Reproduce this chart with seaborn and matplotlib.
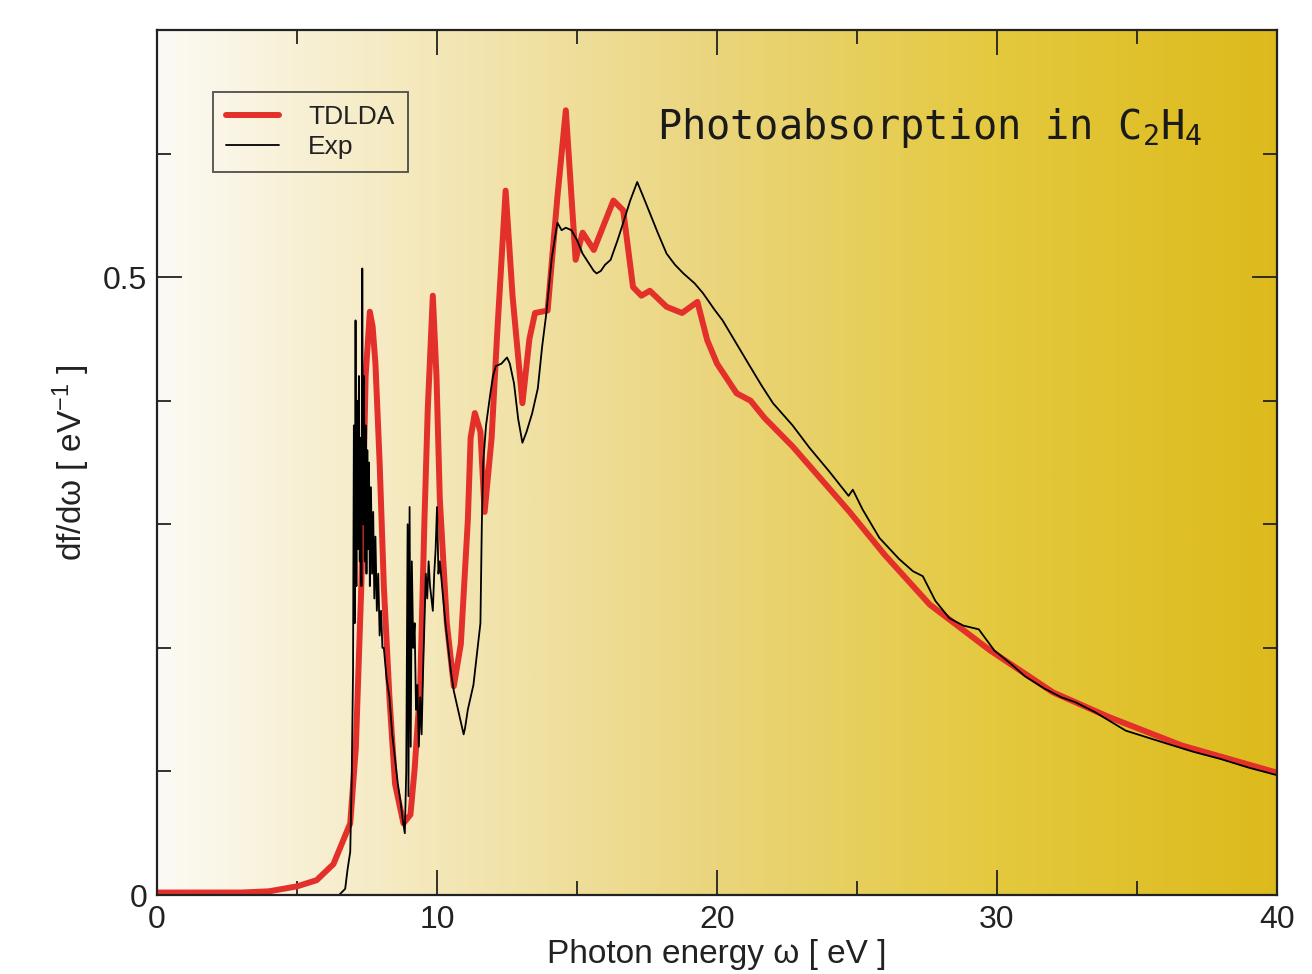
import matplotlib
matplotlib.use("Agg")
import matplotlib.pyplot as plt
import numpy as np
import pandas as pd
import seaborn as sns
from matplotlib.colors import LinearSegmentedColormap
from matplotlib.ticker import FixedLocator, MultipleLocator

###############
# DATA        #
###############
# TDLDA (theory)
tdlda_energy = [
    0.0, 3.0, 4.0, 5.0, 5.7, 6.3, 6.9, 7.1, 7.3, 7.45,
    7.6, 7.7, 7.8, 7.95, 8.1, 8.3, 8.5, 8.8, 9.05, 9.2,
    9.4, 9.55, 9.67, 9.85, 9.98, 10.1, 10.35, 10.6, 10.85, 11.1,
    11.2, 11.35, 11.55, 11.7, 11.95, 12.15, 12.45, 12.7, 13.05, 13.3,
    13.5, 13.95, 14.3, 14.6, 14.95, 15.2, 15.6, 16.3, 16.65, 17.0,
    17.3, 17.6, 18.2, 18.75, 19.3, 19.65, 20.0, 20.7, 21.2, 21.7,
    22.7, 24.7, 26.0, 27.6, 29.75, 32.0, 34.0, 36.6, 40.0,
]
tdlda_dfdw = [
    0.002, 0.002, 0.003, 0.007, 0.012, 0.025, 0.058, 0.119, 0.253, 0.42,
    0.472, 0.46, 0.43, 0.35, 0.25, 0.16, 0.09, 0.058, 0.065, 0.102,
    0.169, 0.303, 0.394, 0.485, 0.42, 0.32, 0.22, 0.169, 0.203, 0.303,
    0.37, 0.39, 0.375, 0.31, 0.37, 0.455, 0.570, 0.484, 0.398, 0.45,
    0.471, 0.473, 0.565, 0.635, 0.514, 0.536, 0.522, 0.562, 0.554, 0.492,
    0.485, 0.489, 0.476, 0.471, 0.48, 0.449, 0.43, 0.406, 0.40, 0.386,
    0.363, 0.311, 0.275, 0.235, 0.198, 0.164, 0.144, 0.121, 0.099,
]

# Experiment
exp_energy = [
    0.0, 6.5, 6.72, 6.8, 6.9, 6.95, 7.0, 7.03, 7.06, 7.09,
    7.12, 7.15, 7.18, 7.21, 7.24, 7.27, 7.3, 7.33, 7.36, 7.39,
    7.42, 7.45, 7.48, 7.51, 7.54, 7.57, 7.6, 7.64, 7.68, 7.72,
    7.76, 7.8, 7.85, 7.9, 7.95, 8.0, 8.05, 8.1, 8.2, 8.3,
    8.4, 8.5, 8.6, 8.7, 8.78, 8.85, 8.9, 8.95, 8.98, 9.02,
    9.06, 9.1, 9.15, 9.2, 9.25, 9.3, 9.35, 9.4, 9.45, 9.5,
    9.55, 9.6, 9.65, 9.7, 9.75, 9.8, 9.85, 9.9, 9.95, 10.0,
    10.05, 10.1, 10.2, 10.3, 10.4, 10.5, 10.6, 10.7, 10.8, 10.9,
    10.95, 11.0, 11.1, 11.2, 11.3, 11.4, 11.5, 11.55, 11.6, 11.65,
    11.75, 11.9, 12.0, 12.1, 12.3, 12.5, 12.6, 12.75, 12.9, 13.05,
    13.2, 13.4, 13.6, 13.75, 13.9, 14.1, 14.3, 14.45, 14.6, 14.8,
    15.0, 15.2, 15.4, 15.6, 15.7, 15.85, 16.0, 16.2, 16.45, 16.65,
    16.9, 17.15, 17.35, 17.6, 17.9, 18.2, 18.5, 18.8, 19.2, 19.5,
    19.9, 20.2, 20.7, 21.2, 21.6, 22.0, 22.7, 23.3, 24.0, 24.7,
    24.85, 25.2, 25.8, 26.5, 27.0, 27.35, 27.8, 28.3, 28.8, 29.35,
    29.9, 30.5, 31.0, 31.7, 32.3, 32.8, 33.5, 34.6, 35.3, 36.0,
    37.0, 38.0, 39.0, 40.0,
]
exp_dfdw = [
    0.0, 0.0, 0.005, 0.02, 0.035, 0.09, 0.18, 0.38, 0.22, 0.465,
    0.25, 0.40, 0.28, 0.42, 0.27, 0.37, 0.25, 0.507, 0.30, 0.42,
    0.27, 0.38, 0.26, 0.36, 0.28, 0.35, 0.25, 0.33, 0.26, 0.31,
    0.24, 0.29, 0.23, 0.26, 0.21, 0.23, 0.20, 0.20, 0.175, 0.16,
    0.13, 0.11, 0.09, 0.075, 0.06, 0.05, 0.10, 0.30, 0.08, 0.314,
    0.12, 0.27, 0.20, 0.22, 0.15, 0.17, 0.12, 0.16, 0.13, 0.18,
    0.22, 0.26, 0.24, 0.27, 0.25, 0.24, 0.23, 0.26, 0.28, 0.314,
    0.26, 0.27, 0.245, 0.22, 0.20, 0.18, 0.165, 0.155, 0.145, 0.135,
    0.13, 0.135, 0.15, 0.16, 0.17, 0.19, 0.21, 0.22, 0.30, 0.35,
    0.38, 0.405, 0.42, 0.428, 0.43, 0.435, 0.43, 0.414, 0.385, 0.366,
    0.375, 0.39, 0.41, 0.443, 0.47, 0.516, 0.544, 0.538, 0.54, 0.538,
    0.53, 0.519, 0.512, 0.505, 0.503, 0.505, 0.51, 0.514, 0.53, 0.544,
    0.562, 0.577, 0.566, 0.552, 0.535, 0.519, 0.51, 0.503, 0.495, 0.487,
    0.474, 0.465, 0.446, 0.427, 0.412, 0.398, 0.38, 0.362, 0.343, 0.323,
    0.328, 0.312, 0.289, 0.272, 0.262, 0.258, 0.238, 0.224, 0.218, 0.215,
    0.198, 0.187, 0.177, 0.167, 0.16, 0.156, 0.148, 0.133, 0.128, 0.123,
    0.116, 0.11, 0.103, 0.097,
]

x_ticks = [0, 10, 20, 30, 40]
y_ticks = [0, 0.5]
y_tick_labels = ["0", "0.5"]

###############
# PLOT CONFIG #
###############
RED = "#E3302B"
BG_COLORS = ["#FCFAF4", "#F4E7B8", "#EAD57C", "#E4C93E", "#DDBA1C"]
LABEL_FONT = "Liberation Sans"
TEXT_COLOR = "#222222"

sns.set_style("ticks")
plt.rcParams["font.family"] = [LABEL_FONT, "DejaVu Sans"]
plt.rcParams["mathtext.default"] = "regular"

fig = plt.figure(figsize=(13.12, 9.74), dpi=100)
ax = fig.add_axes([0.1197, 0.0811, 0.8536, 0.8881])

# background gradient (white -> gold, left to right)
cmap = LinearSegmentedColormap.from_list("gold", BG_COLORS)
grad = np.linspace(0, 1, 512).reshape(1, -1)
ax.imshow(grad, extent=[0, 1, 0, 1], transform=ax.transAxes,
          aspect="auto", cmap=cmap, zorder=0)

df_th = pd.DataFrame({"energy": tdlda_energy, "dfdw": tdlda_dfdw})
df_ex = pd.DataFrame({"energy": exp_energy, "dfdw": exp_dfdw})

sns.lineplot(data=df_th, x="energy", y="dfdw", ax=ax, color=RED, lw=4.3,
             label="TDLDA", estimator=None, sort=False, zorder=3)
sns.lineplot(data=df_ex, x="energy", y="dfdw", ax=ax, color="black", lw=1.3,
             label="Exp", estimator=None, sort=False, zorder=4)

ax.set_xlim(0, 40)
ax.set_ylim(0, 0.70)
ax.xaxis.set_major_locator(FixedLocator(x_ticks))
ax.xaxis.set_minor_locator(MultipleLocator(5))
ax.yaxis.set_major_locator(FixedLocator(y_ticks))
ax.set_yticklabels(y_tick_labels)
ax.yaxis.set_minor_locator(MultipleLocator(0.1))
ax.tick_params(which="both", direction="in", top=True, right=True,
               width=1.3, color=TEXT_COLOR, labelsize=23, labelcolor=TEXT_COLOR)
ax.tick_params(which="major", length=18, pad=7)
ax.tick_params(which="minor", length=10)
for sp in ax.spines.values():
    sp.set_linewidth(1.6)
    sp.set_color(TEXT_COLOR)
    sp.set_zorder(5)

ax.set_xlabel("Photon energy ω [ eV ]", fontsize=24, color=TEXT_COLOR, labelpad=3)
ax.set_ylabel("df/dω [ eV$^{-1}$ ]", fontsize=24, color=TEXT_COLOR, labelpad=8)

leg = ax.legend(loc="upper left", bbox_to_anchor=(0.05, 0.928),
                borderaxespad=0, fontsize=19, frameon=True, fancybox=False,
                handlelength=2.0, labelspacing=0.2, borderpad=0.5,
                handletextpad=1.1)
leg.get_frame().set_facecolor("none")
leg.get_frame().set_edgecolor("#333333")
leg.get_frame().set_linewidth(1.4)
for t in leg.get_texts():
    t.set_color(TEXT_COLOR)

ax.text(0.446, 0.887, "Photoabsorption in C$_2$H$_4$", transform=ax.transAxes,
        family="DejaVu Sans Mono", fontsize=29, color="#1a1a1a",
        va="center", ha="left")

fig.savefig("out.png", dpi=100)
